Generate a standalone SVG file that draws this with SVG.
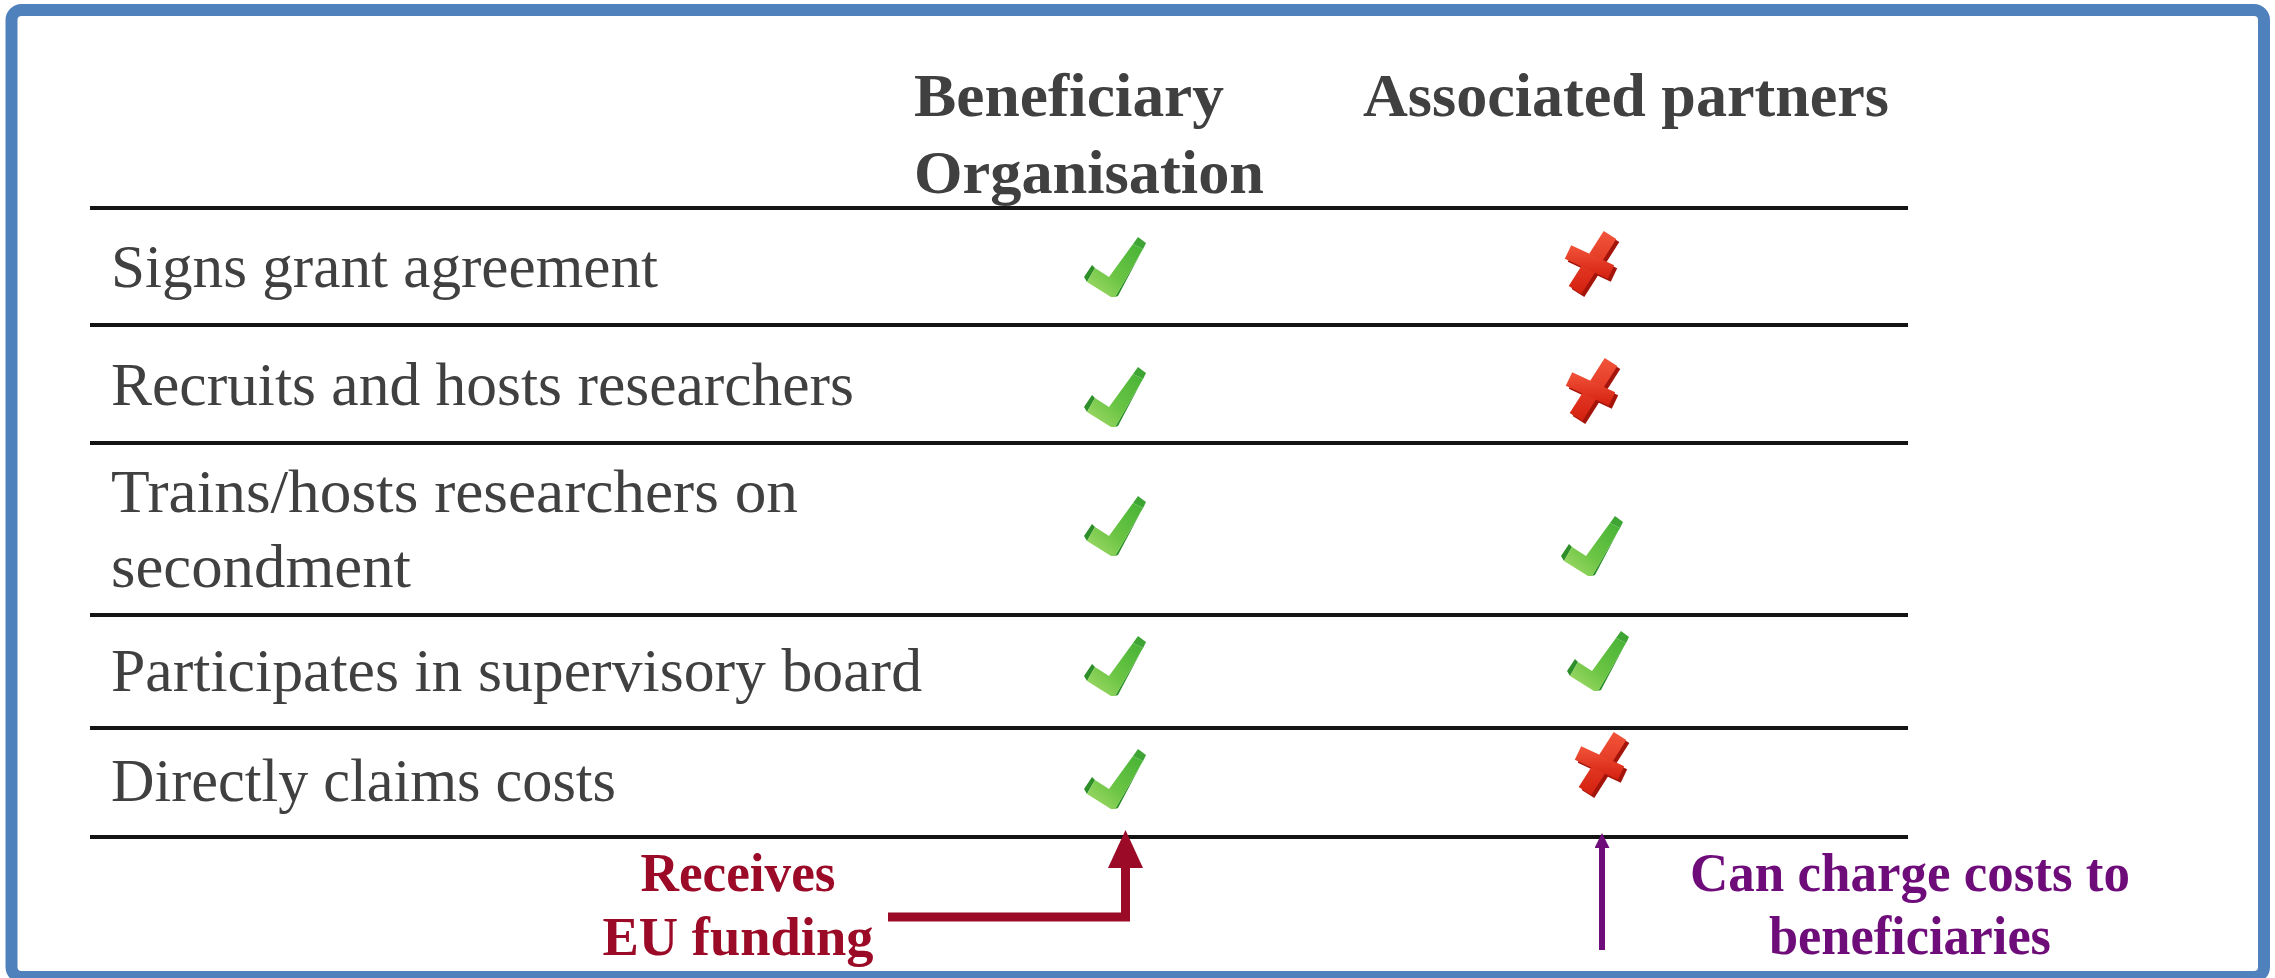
<svg xmlns="http://www.w3.org/2000/svg" width="2275" height="978" viewBox="0 0 2275 978">
  <style>
    .lbl { font-family: "Liberation Serif", "Times New Roman", serif; font-size: 61px; fill: #404040; }
    .hdr { font-family: "Liberation Serif", "Times New Roman", serif; font-size: 62px; font-weight: bold; fill: #404040; }
    .red { font-family: "Liberation Serif", "Times New Roman", serif; font-size: 54px; font-weight: bold; fill: #9B0A26; text-anchor: middle; }
    .pur { font-family: "Liberation Serif", "Times New Roman", serif; font-size: 54px; font-weight: bold; fill: #6E0C7A; text-anchor: middle; }
    .rule { stroke: #141414; stroke-width: 4; }
  </style>
  <defs>
    <linearGradient id="gChk" x1="1" y1="0" x2="0" y2="1">
      <stop offset="0" stop-color="#46b236"/>
      <stop offset="0.55" stop-color="#6cc544"/>
      <stop offset="1" stop-color="#a6dc6c"/>
    </linearGradient>
    <linearGradient id="gX" x1="0" y1="0" x2="0" y2="1">
      <stop offset="0" stop-color="#f2543a"/>
      <stop offset="1" stop-color="#d4200f"/>
    </linearGradient>
    <g id="chk">
      <polygon points="-25,14 -17,0 -20,-3 -28,9" fill="#2e8f2a"/>
      <polygon points="21,-24 26,-31 34,-25 31,-19" fill="#3ea534"/>
      <polygon points="31,-19 34,-25 6,28 3,29" fill="#2d9128"/>
      <polygon points="-17,0 -3,9 21,-24 31,-19 3,29 -1,29 -25,14" fill="url(#gChk)"/>
    </g>
    <g id="crs">
      <polygon points="29.3,-20 16.7,-28 -18.3,27 -5.7,35" fill="#a3140b"/>
      <polygon points="-22.2,-0.2 -15.8,-13.8 27.2,6.2 20.8,19.8" fill="#a3140b"/>
      <polygon points="26.3,-23 13.7,-31 -21.3,24 -8.7,32" fill="url(#gX)"/>
      <polygon points="-25.2,-3.2 -18.8,-16.8 24.2,3.2 17.8,16.8" fill="url(#gX)"/>
    </g>
    <marker id="mRed" viewBox="0 0 38 35" markerWidth="38" markerHeight="35" refX="8" refY="17.5" orient="auto" markerUnits="userSpaceOnUse">
      <path d="M0,0 L38,17.5 L0,35 z" fill="#9B0A26"/>
    </marker>
    <marker id="mPur" viewBox="0 0 15 15" markerWidth="15" markerHeight="15" refX="3" refY="7.5" orient="auto" markerUnits="userSpaceOnUse">
      <path d="M0,0 L15,7.5 L0,15 z" fill="#6E0C7A"/>
    </marker>
  </defs>

  <rect x="0" y="0" width="2275" height="978" fill="#ffffff"/>
  <rect id="frame" x="11.5" y="10" width="2252.5" height="967" rx="10" fill="#ffffff" stroke="#4F81BD" stroke-width="12"/>

  <g id="rules">
    <line class="rule" x1="90" y1="208" x2="1908" y2="208"/>
    <line class="rule" x1="90" y1="325" x2="1908" y2="325"/>
    <line class="rule" x1="90" y1="443" x2="1908" y2="443"/>
    <line class="rule" x1="90" y1="615" x2="1908" y2="615"/>
    <line class="rule" x1="90" y1="728" x2="1908" y2="728"/>
    <line class="rule" x1="90" y1="837" x2="1908" y2="837"/>
  </g>

  <g id="hdr-beneficiary">
    <text class="hdr" x="914" y="116" textLength="310" lengthAdjust="spacingAndGlyphs">Beneficiary</text>
    <text class="hdr" x="914" y="193" textLength="350" lengthAdjust="spacingAndGlyphs">Organisation</text>
  </g>
  <g id="hdr-associated">
    <text class="hdr" x="1363" y="116" textLength="526" lengthAdjust="spacingAndGlyphs">Associated partners</text>
  </g>

  <g id="row-signs">
    <text class="lbl" x="111" y="287" textLength="547" lengthAdjust="spacingAndGlyphs">Signs grant agreement</text>
    <use href="#chk" x="1112" y="268"/>
    <use href="#crs" x="1590" y="262"/>
  </g>
  <g id="row-recruits">
    <text class="lbl" x="111" y="405" textLength="743" lengthAdjust="spacingAndGlyphs">Recruits and hosts researchers</text>
    <use href="#chk" x="1112" y="398"/>
    <use href="#crs" x="1591" y="389"/>
  </g>
  <g id="row-trains">
    <text class="lbl" x="111" y="512" textLength="687" lengthAdjust="spacingAndGlyphs">Trains/hosts researchers on</text>
    <text class="lbl" x="111" y="587" textLength="300" lengthAdjust="spacingAndGlyphs">secondment</text>
    <use href="#chk" x="1112" y="527"/>
    <use href="#chk" x="1589" y="547"/>
  </g>
  <g id="row-participates">
    <text class="lbl" x="111" y="691" textLength="811" lengthAdjust="spacingAndGlyphs">Participates in supervisory board</text>
    <use href="#chk" x="1112" y="667"/>
    <use href="#chk" x="1595" y="662"/>
  </g>
  <g id="row-claims">
    <text class="lbl" x="111" y="801" textLength="505" lengthAdjust="spacingAndGlyphs">Directly claims costs</text>
    <use href="#chk" x="1112" y="780"/>
    <use href="#crs" x="1600" y="763"/>
  </g>

  <g id="note-funding">
    <text class="red" x="738" y="891" textLength="195" lengthAdjust="spacingAndGlyphs">Receives</text>
    <text class="red" x="738" y="955" textLength="271" lengthAdjust="spacingAndGlyphs">EU funding</text>
  </g>
  <g id="note-charge">
    <text class="pur" x="1910" y="891" textLength="440" lengthAdjust="spacingAndGlyphs">Can charge costs to</text>
    <text class="pur" x="1910" y="954" textLength="282" lengthAdjust="spacingAndGlyphs">beneficiaries</text>
  </g>

  <g id="connectors">
    <path d="M888,917 H1125.5 V860" fill="none" stroke="#9B0A26" stroke-width="9" marker-end="url(#mRed)"/>
    <path d="M1602,950 V845" fill="none" stroke="#6E0C7A" stroke-width="6" marker-end="url(#mPur)"/>
  </g>
</svg>
